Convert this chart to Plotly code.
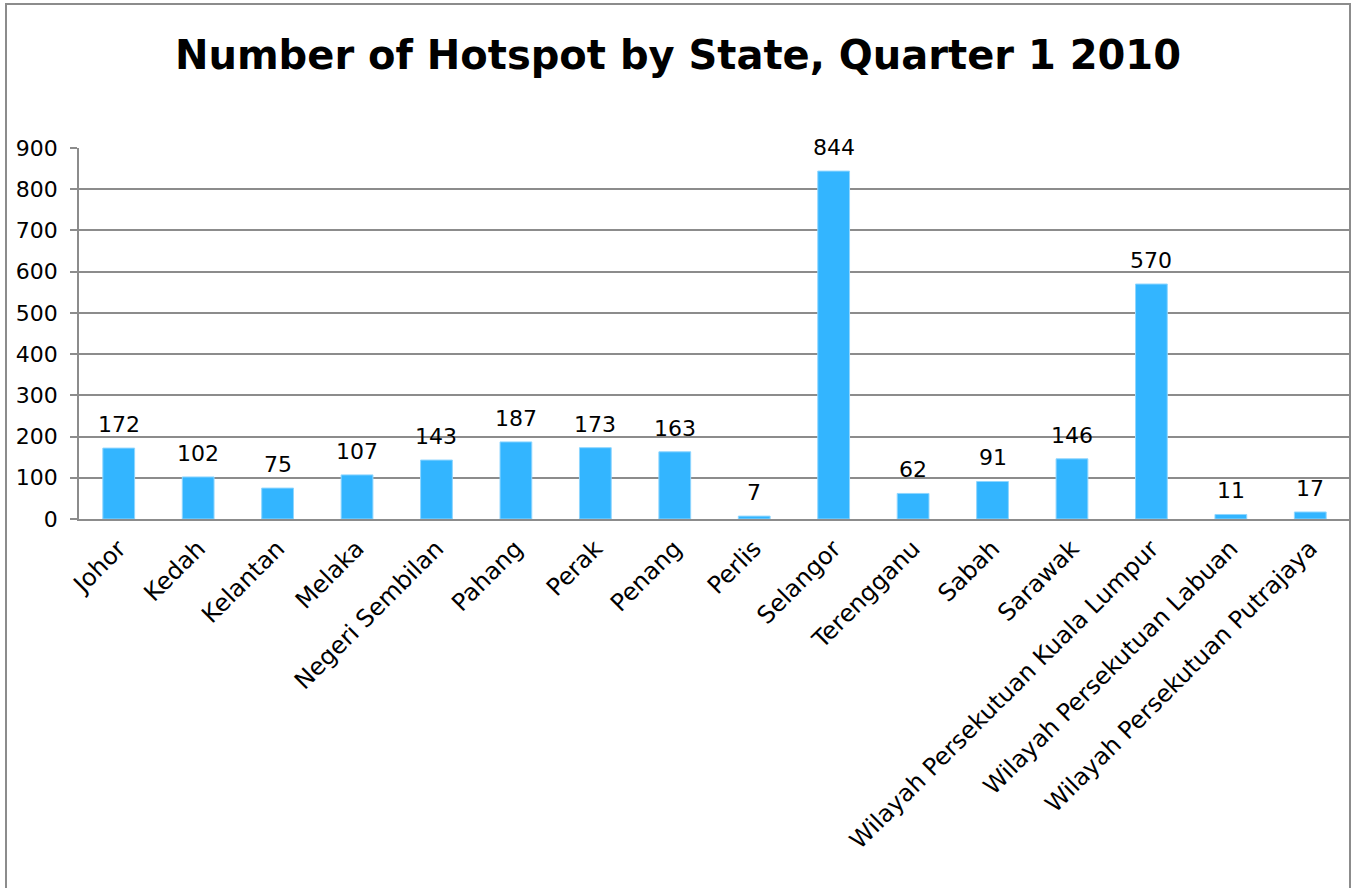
import plotly.graph_objects as go

states = ["Johor", "Kedah", "Kelantan", "Melaka", "Negeri Sembilan", "Pahang", "Perak",
          "Penang", "Perlis", "Selangor", "Terengganu", "Sabah", "Sarawak",
          "Wilayah Persekutuan Kuala Lumpur", "Wilayah Persekutuan Labuan",
          "Wilayah Persekutuan Putrajaya"]
hotspots = [172, 102, 75, 107, 143, 187, 173, 163, 7, 844, 62, 91, 146, 570, 11, 17]
y_ticks = [0, 100, 200, 300, 400, 500, 600, 700, 800, 900]

FONT = "'DejaVu Sans', sans-serif"
L, R, T, B = 79, 6, 148, 369
PW = 1356 - L - R
PH = 888 - T - B

fig = go.Figure(go.Bar(
    x=states, y=hotspots,
    marker=dict(color="#33B5FF", line=dict(color="#8FD6FF", width=1)),
    cliponaxis=False,
))

for s, v in zip(states, hotspots):
    fig.add_annotation(x=s, y=v, xref="x", yref="y", text=str(v), showarrow=False,
                       yanchor="bottom", yshift=9,
                       font=dict(size=22, family=FONT, color="#000000"))

fig.update_layout(
    width=1356, height=888,
    margin=dict(l=L, r=R, t=T, b=B),
    paper_bgcolor="white", plot_bgcolor="white",
    bargap=0.6,
    showlegend=False,
    font=dict(family=FONT, size=22, color="#000000"),
    title=dict(text="<b>Number of Hotspot by State, Quarter 1 2010</b>",
               x=0.5, xref="container", xanchor="center",
               y=1 - 55 / 888, yref="container", yanchor="middle",
               font=dict(size=40, family=FONT, color="#000000")),
)

fig.update_yaxes(
    range=[0, 900], tickvals=y_ticks, ticktext=[str(t) for t in y_ticks],
    showgrid=True, gridcolor="#8C8C8C", gridwidth=1.8,
    showline=True, linecolor="#8C8C8C", linewidth=1.8,
    ticks="outside", ticklen=7, tickcolor="#8C8C8C", tickwidth=1.8,
    ticklabelstandoff=8,
    tickfont=dict(size=22, family=FONT, color="#000000"),
    zeroline=False, fixedrange=True, automargin=False,
)
fig.update_xaxes(
    tickangle=-45, showline=True, linecolor="#8C8C8C", linewidth=1.8,
    ticks="", tickfont=dict(size=24, family=FONT, color="#000000"),
    ticklabelstandoff=4,
    showgrid=False, automargin=False, fixedrange=True,
)

# outer chart border
fig.add_shape(type="rect", xref="paper", yref="paper",
              x0=(6 - L) / PW, x1=(1350 - L) / PW,
              y0=(519 - 900) / PH, y1=(519 - 4) / PH,
              line=dict(color="#8C8C8C", width=2), fillcolor="rgba(0,0,0,0)", layer="above")

fig.write_html("out.html", config={"displayModeBar": False},
               post_script="document.body.style.margin='0';")
